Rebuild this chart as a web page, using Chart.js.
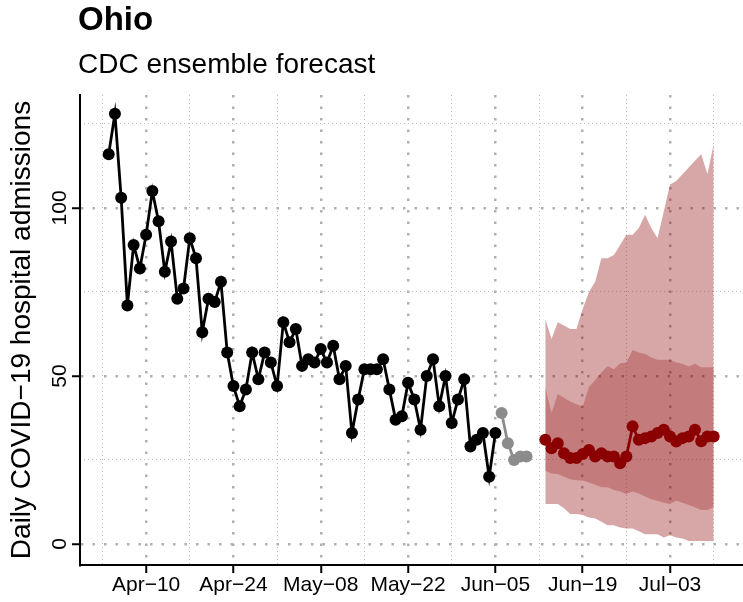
<!DOCTYPE html>
<html>
<head>
<meta charset="utf-8">
<script src="https://cdn.jsdelivr.net/npm/chart.js@4/dist/chart.umd.min.js"></script>
<style>
  html, body { margin: 0; padding: 0; background: #fff; }
  canvas { display: block; }
</style>
</head>
<body>
<canvas id="chart" width="743" height="602"></canvas>
<script>
// observed daily admissions (black), recent unconfirmed (grey), forecast (red)
const observedStart = '2021-04-04';
const observed = [116, 128, 103, 71, 89, 82, 92, 105, 96, 81, 90, 73, 76, 91, 85, 63, 73, 72, 78, 57,
  47, 41, 46, 57, 49, 57, 54,
  47, 66, 60, 64, 53, 55, 54, 58, 54, 59, 49, 53, 33, 43, 52, 52, 52, 55, 46, 37, 38, 48, 43, 34,
  50, 55, 41, 50, 36, 43, 49,
  29, 31, 33, 20, 33];
const recentStart = '2021-06-06';
const recent = [39, 30, 25, 26, 26];

const forecastStart = '2021-06-13';
const median = [31, 28.5, 30, 27, 25.6, 25.6, 26.8, 28, 26, 27, 26, 26, 24, 26,
  35, 31, 31.5, 32, 33, 34, 32, 30.5, 31.5, 32, 34, 30.6, 32, 32];
const lower50 = [21.8, 21, 20.8, 20, 19.3, 19, 18.9, 18.3, 17.6, 16.9, 16.9, 16.1, 15.6, 14.9,
  15.6, 15, 14.1, 13.3, 12.9, 12.3, 11.9, 12.9, 12.3, 11.6, 10.9, 10.1, 10.1, 11];
const upper50 = [46.7, 39, 44.6, 43.5, 42.4, 41.6, 40.9, 46.7, 48.8, 51, 53, 52, 53.8, 54,
  57.7, 57, 56.5, 55.5, 54.8, 54.8, 54.8, 54, 53.6, 52.8, 53.6, 52.6, 52.6, 52.6];
const lower95 = [11.9, 11.9, 11.9, 10.6, 8.9, 8.9, 8.6, 7.9, 7.6, 6.6, 5.6, 5.6, 4.9, 4.6,
  4.6, 3.8, 2.9, 2.9, 2.9, 1.9, 2.6, 1.9, 1.6, 0.9, 0.9, 0.9, 0.9, 0.9];
const upper95 = [67, 61, 66, 65, 64, 64, 70, 75, 78, 85, 85, 86, 89, 92,
  92, 94, 98, 94, 91, 99, 107, 108, 110, 112, 114, 116, 110, 119];

const tickDates = ['2021-04-10', '2021-04-24', '2021-05-08', '2021-05-22', '2021-06-05', '2021-06-19', '2021-07-03'];
const tickLabels = ['Apr\u221210', 'Apr\u221224', 'May\u221208', 'May\u221222', 'Jun\u221205', 'Jun\u221219', 'Jul\u221203'];
const minorDates = ['2021-04-03', '2021-04-17', '2021-05-01', '2021-05-15', '2021-05-29', '2021-06-12', '2021-06-26', '2021-07-10'];
const yTicks = [0, 50, 100];
const yMinor = [25, 75, 125];

const origin = Date.UTC(2021, 3, 10);
function dayOf(s) {
  const [y, m, d] = s.split('-').map(Number);
  return (Date.UTC(y, m - 1, d) - origin) / 86400000;
}
function series(start, values) {
  const d0 = dayOf(start);
  return values.map((v, i) => ({ x: d0 + i, y: v }));
}
const tickDays = tickDates.map(dayOf);

const FONT = '"Liberation Sans", Arial, sans-serif';
const xMin = -10.6, xMax = 95.7, yMin = -6.25, yMax = 133.6;

const band = (data, fill, color, order) => ({
  data, fill, backgroundColor: color, borderColor: 'transparent', borderWidth: 0,
  pointRadius: 0, tension: 0, order
});
const line = (data, color, order) => ({
  data, borderColor: color, borderWidth: 2.8, pointRadius: 6, pointHoverRadius: 6,
  pointBackgroundColor: color, pointBorderWidth: 0, tension: 0, fill: false, order
});

// titles and the rotated y tick labels (R draws them parallel to the axis)
const texts = {
  id: 'texts',
  afterDraw(chart) {
    const ctx = chart.ctx;
    const y = chart.scales.y;
    ctx.save();
    ctx.fillStyle = '#000';
    ctx.textBaseline = 'alphabetic';
    ctx.font = 'bold 33px ' + FONT;
    ctx.fillText('Ohio', 78, 30);
    ctx.font = '28px ' + FONT;
    ctx.fillText('CDC ensemble forecast', 78, 73);
    ctx.font = '21px ' + FONT;
    ctx.textAlign = 'center';
    yTicks.forEach(v => {
      ctx.save();
      ctx.translate(66, y.getPixelForValue(v));
      ctx.rotate(-Math.PI / 2);
      ctx.fillText(String(v), 0, 0);
      ctx.restore();
    });
    ctx.restore();
  }
};

new Chart(document.getElementById('chart'), {
  type: 'line',
  data: {
    datasets: [
      band(series(forecastStart, upper95), '+1', 'rgba(139,0,0,0.35)', 5),
      band(series(forecastStart, lower95), false, 'transparent', 5),
      band(series(forecastStart, upper50), '+1', 'rgba(139,0,0,0.26)', 4),
      band(series(forecastStart, lower50), false, 'transparent', 4),
      line(series(observedStart, observed), '#000000', 1),
      line(series(recentStart, recent), '#8c8c8c', 1),
      line(series(forecastStart, median), '#8b0000', 1)
    ]
  },
  options: {
    responsive: false,
    animation: false,
    devicePixelRatio: 1,
    layout: { autoPadding: false, padding: { top: 95, left: 0, right: 0, bottom: 0 } },
    plugins: { legend: { display: false }, tooltip: { enabled: false } },
    scales: {
      x: {
        type: 'linear', position: 'bottom', min: xMin, max: xMax,
        afterBuildTicks: s => { s.ticks = tickDays.map(v => ({ value: v })); },
        afterFit: s => { s.height = 37; s.paddingLeft = 0; s.paddingRight = 0; },
        ticks: {
          font: { family: FONT, size: 21 }, color: '#000', padding: 0, maxRotation: 0,
          callback: v => tickLabels[tickDays.indexOf(v)]
        },
        grid: { color: '#b0b0b0', lineWidth: 2.5, tickColor: '#000', tickWidth: 2, tickLength: 8, tickBorderDash: [] },
        border: { display: true, color: '#000', width: 2, dash: [2.5, 9] }
      },
      xMinor: {
        type: 'linear', position: 'bottom', min: xMin, max: xMax,
        afterBuildTicks: s => { s.ticks = minorDates.map(d => ({ value: dayOf(d) })); },
        afterFit: s => { s.height = 0; s.paddingLeft = 0; s.paddingRight = 0; },
        ticks: { display: false },
        grid: { color: '#bdbdbd', lineWidth: 1, drawTicks: false },
        border: { display: false, dash: [1, 3] }
      },
      y: {
        type: 'linear', position: 'left', min: yMin, max: yMax,
        afterBuildTicks: s => { s.ticks = yTicks.map(v => ({ value: v })); },
        afterFit: s => { s.width = 80; s.paddingTop = 0; s.paddingBottom = 0; },
        ticks: { display: false },
        title: {
          display: true, text: 'Daily COVID\u221219 hospital admissions',
          font: { family: FONT, size: 28 }, color: '#000', padding: { top: 5, bottom: 0 }
        },
        grid: { color: '#b0b0b0', lineWidth: 2.5, tickColor: '#000', tickWidth: 2, tickLength: 8, tickBorderDash: [] },
        border: { display: true, color: '#000', width: 2, dash: [2.5, 9] }
      },
      yMinor: {
        type: 'linear', position: 'left', min: yMin, max: yMax,
        afterBuildTicks: s => { s.ticks = yMinor.map(v => ({ value: v })); },
        afterFit: s => { s.width = 0; s.paddingTop = 0; s.paddingBottom = 0; },
        ticks: { display: false },
        grid: { color: '#bdbdbd', lineWidth: 1, drawTicks: false },
        border: { display: false, dash: [1, 3] }
      }
    }
  },
  plugins: [texts]
});
</script>
</body>
</html>
